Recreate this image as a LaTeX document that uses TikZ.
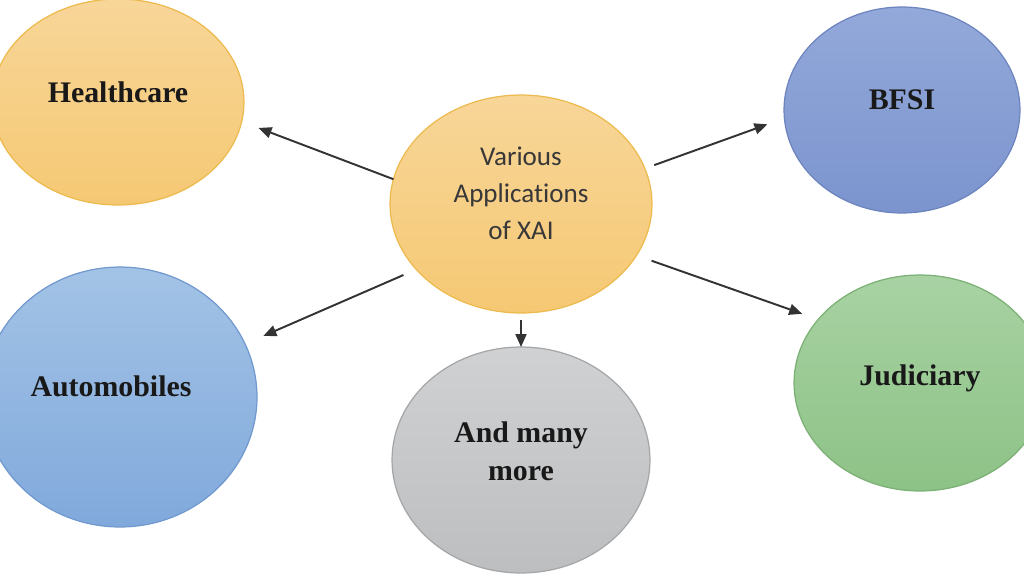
\documentclass[tikz,border=0pt]{standalone}
\usepackage{fontspec}
\setmainfont{Liberation Serif}
\newfontfamily\xaifont[Ligatures=NoCommon]{Carlito}
\usetikzlibrary{shapes.geometric,arrows.meta}

\definecolor{orangeTop}{HTML}{F8D699}
\definecolor{orangeBot}{HTML}{F5C873}
\definecolor{orangeLine}{HTML}{EDBA4E}
\definecolor{blueTop}{HTML}{93A9DA}
\definecolor{blueBot}{HTML}{7C94CE}
\definecolor{blueLine}{HTML}{6D84BF}
\definecolor{skyTop}{HTML}{A3C3E6}
\definecolor{skyBot}{HTML}{80A9DB}
\definecolor{skyLine}{HTML}{7199CF}
\definecolor{greyTop}{HTML}{D0D1D2}
\definecolor{greyBot}{HTML}{BDBEBF}
\definecolor{greyLine}{HTML}{A5A6A7}
\definecolor{greenTop}{HTML}{A8D2A3}
\definecolor{greenBot}{HTML}{8DC286}
\definecolor{greenLine}{HTML}{7CB075}

\tikzset{
    bubble/.style={ellipse, inner sep=0pt, outer sep=0pt, line width=0.7pt},
    orangebubble/.style={bubble, draw=orangeLine, top color=orangeTop, bottom color=orangeBot},
    bluebubble/.style={bubble, draw=blueLine, top color=blueTop, bottom color=blueBot},
    skybubble/.style={bubble, draw=skyLine, top color=skyTop, bottom color=skyBot},
    greybubble/.style={bubble, draw=greyLine, top color=greyTop, bottom color=greyBot},
    greenbubble/.style={bubble, draw=greenLine, top color=greenTop, bottom color=greenBot},
    areatext/.style={text=black!90, font=\fontsize{17}{21.5}\selectfont\bfseries, align=center},
    hubtext/.style={text=black!78, font=\xaifont\fontsize{15.4}{21}\selectfont, align=center},
    link/.style={draw=black!80, line width=1.1pt, -{Triangle[length=0.26cm,width=0.22cm]}}
}

\begin{document}
\begin{tikzpicture}[x=0.02cm, y=-0.02cm]
    \useasboundingbox (0,0) rectangle (1024,576);
    \clip (0,0) rectangle (1024,576);
    \fill[white] (0,0) rectangle (1024,576);

    \node[orangebubble, minimum width=5.24cm, minimum height=4.36cm] (hub) at (521,204) {};
    \node[hubtext] (hub-txt) at ([yshift=0.22cm]hub.center) {Various\\Applications\\of XAI};

    \node[orangebubble, minimum width=5.04cm, minimum height=4.12cm] (health) at (118,102) {};
    \node[areatext] (health-txt) at ([yshift=0.2cm]health.center) {Healthcare};

    \node[bluebubble, minimum width=4.72cm, minimum height=4.12cm] (bfsi) at (902,110) {};
    \node[areatext] (bfsi-txt) at ([yshift=0.2cm]bfsi.center) {BFSI};

    \node[skybubble, minimum width=5.48cm, minimum height=5.2cm] (auto) at (120,397) {};
    \node[areatext] (auto-txt) at ([xshift=-0.18cm,yshift=0.22cm]auto.center) {Automobiles};

    \node[greybubble, minimum width=5.16cm, minimum height=4.52cm] (more) at (521,460) {};
    \node[areatext] (more-txt) at ([yshift=0.18cm]more.center) {And many\\more};

    \node[greenbubble, minimum width=5.04cm, minimum height=4.32cm] (judic) at (920,383) {};
    \node[areatext] (judic-txt) at ([yshift=0.1cm]judic.center) {Judiciary};

    \draw[link, shorten >=0.36cm] (hub.169) -- (health.-9);
    \draw[link, shorten <=0.2cm, shorten >=0.36cm] (hub.16) -- (bfsi.184);
    \draw[link, shorten <=0.28cm, shorten >=0.4cm] (hub.212) -- (auto.23);
    \draw[link, shorten <=0.14cm] (hub.south) -- (more.north);
    \draw[link, shorten <=0.32cm, shorten >=0.34cm] (hub.-24) -- (judic.148);
\end{tikzpicture}
\end{document}
